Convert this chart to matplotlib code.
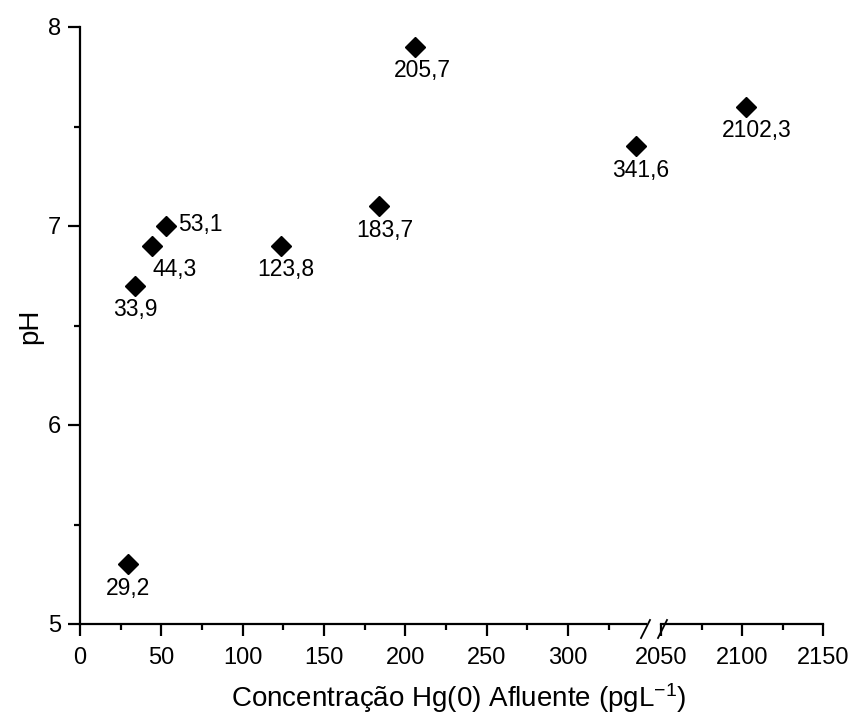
import matplotlib
matplotlib.use("Agg")
import matplotlib.pyplot as plt
from matplotlib.lines import Line2D
from matplotlib.ticker import MultipleLocator

plt.rcParams['font.family'] = ['Liberation Sans', 'DejaVu Sans']
plt.rcParams['mathtext.default'] = 'regular'

# data
conc = [29.2, 33.9, 44.3, 53.1, 123.8, 183.7, 205.7, 341.6, 2102.3]
ph = [5.3, 6.7, 6.9, 7.0, 6.9, 7.1, 7.9, 7.4, 7.6]
labels = ["29,2", "33,9", "44,3", "53,1", "123,8", "183,7", "205,7", "341,6", "2102,3"]
# label offsets in pixels (dx, dy)
offsets = [(0, -24), (0, -24), (23, -24), (34, 1), (4, -24), (6, -24), (8, -24), (5, -24), (11, -24)]

W, H = 854, 721
fig = plt.figure(figsize=(W / 100, H / 100), dpi=100)

left1, right1 = 80, 646
left2, right2 = 661, 823
top, bottom = 27, 624
pxu = 1.627
ax1 = fig.add_axes([left1 / W, 1 - bottom / H, (right1 - left1) / W, (bottom - top) / H])
ax2 = fig.add_axes([left2 / W, 1 - bottom / H, (right2 - left2) / W, (bottom - top) / H])

fs = 17
afs = 16.5
lw = 1.6
for ax in (ax1, ax2):
    ax.set_ylim(5, 8)
    ax.spines['top'].set_visible(False)
    ax.spines['right'].set_visible(False)
    ax.spines['bottom'].set_linewidth(lw)
    ax.spines['left'].set_linewidth(lw)
    ax.tick_params(axis='both', which='major', direction='out', length=8.6, width=lw, labelsize=fs)
    ax.tick_params(axis='x', which='major', pad=8)
    ax.tick_params(axis='y', which='major', pad=5)
    ax.tick_params(axis='both', which='minor', direction='out', length=4.3, width=lw)
    ax.patch.set_alpha(0)
    ax.xaxis.set_major_locator(MultipleLocator(50))
    ax.xaxis.set_minor_locator(MultipleLocator(25))
    ax.yaxis.set_major_locator(MultipleLocator(1))
    ax.yaxis.set_minor_locator(MultipleLocator(0.5))

ax1.set_xlim(0, (right1 - left1) / pxu)
ax2.set_xlim(2050, 2150)
ax2.spines['left'].set_visible(False)
ax2.tick_params(axis='y', which='both', left=False, labelleft=False)

for ax, lo, hi in ((ax1, 0, 400), (ax2, 2000, 2200)):
    xs = [c for c in conc if lo <= c <= hi]
    ys = [p for c, p in zip(conc, ph) if lo <= c <= hi]
    ax.plot(xs, ys, linestyle='none', marker='D', markersize=10.5, color='black', clip_on=False)
    for c, p, lab, (dx, dy) in zip(conc, ph, labels, offsets):
        if lo <= c <= hi:
            ax.annotate(lab, (c, p), xytext=(dx * 0.72, dy * 0.72), textcoords='offset points',
                        ha='center', va='center', fontsize=afs)

fig.text(30 / W, 1 - 326 / H, 'pH', rotation=90, ha='center', va='center', fontsize=20)

# break marks
for x0 in (641, 658):
    fig.add_artist(Line2D([x0 / W, (x0 + 9) / W], [1 - 638 / H, 1 - 620 / H],
                          color='black', lw=1.3, transform=fig.transFigure))

fig.text(459 / W, 1 - 698 / H, 'Concentração Hg(0) Afluente (pgL$^{-1}$)',
         ha='center', va='center', fontsize=20)

fig.savefig('out.png', dpi=100)
